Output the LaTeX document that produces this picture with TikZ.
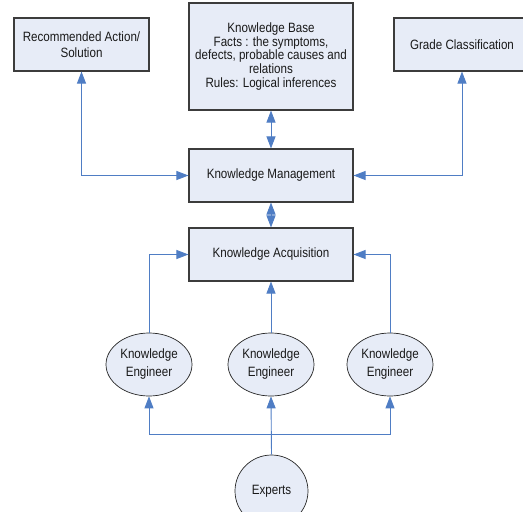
\documentclass[tikz,border=0pt]{standalone}
\usepackage{fontspec}
\setmainfont{Liberation Sans}[FakeStretch=0.86]
\usetikzlibrary{arrows.meta,shapes.geometric}
\definecolor{boxfill}{RGB}{231,236,247}
\definecolor{boxline}{RGB}{60,60,60}
\definecolor{conn}{RGB}{79,125,196}
\begin{document}
\begin{tikzpicture}[x=1pt,y=-1pt,
  every node/.style={font=\fontsize{13.5}{13.8}\selectfont, text=black!90, align=center, inner sep=0pt},
  box/.style={draw=boxline, line width=1.1pt, fill=boxfill, rectangle, minimum height=53pt},
  oval/.style={draw=black!85, line width=0.7pt, fill=boxfill, ellipse, font=\fontsize{13.5}{18}\selectfont},
  link/.style={draw=conn, line width=0.9pt, -{Triangle[length=12pt,width=9pt]}},
  dlink/.style={draw=conn, line width=0.9pt, {Triangle[length=12pt,width=9pt]}-{Triangle[length=12pt,width=9pt]}}
]
\useasboundingbox (0,0) rectangle (523,512);

\node[box, minimum width=135pt, font=\fontsize{13.5}{16}\selectfont] (rec) at (81.5,44.5) {Recommended Action/\\Solution};
\node[box, minimum width=164pt, minimum height=107pt] (kb) at (271,56.5)
  {Knowledge Base\\Facts : the symptoms,\\defects, probable causes and\\relations\\Rules: Logical inferences};
\node[box, minimum width=136pt] (grade) at (462,44.5) {Grade Classification};
\node[box, minimum width=164pt] (km) at (271,175.5) {Knowledge Management};
\node[box, minimum width=164pt] (ka) at (271,254.5) {Knowledge Acquisition};

\node[oval, minimum width=86pt, minimum height=63pt] (e1) at (149,364.5) {Knowledge\\Engineer};
\node[oval, minimum width=86pt, minimum height=63pt] (e2) at (271,364.5) {Knowledge\\Engineer};
\node[oval, minimum width=86pt, minimum height=63pt] (e3) at (390,364.5) {Knowledge\\Engineer};
\node[oval, minimum width=73pt, minimum height=72pt] (ex) at (271.5,491) {Experts};

\coordinate (j) at (271.5,434);

\draw[dlink] (rec.south) |- (km.west);
\draw[dlink] (grade.south) |- (km.east);
\draw[dlink] (kb.south) -- (km.north);
\draw[dlink] (km.south) -- (ka.north);

\draw[link] (e1.north) |- (ka.west);
\draw[link] (e2.north) -- (ka.south);
\draw[link] (e3.north) |- (ka.east);

\draw[link] (ex.north) -- (e2.south);
\draw[link] (j) -| (e1.south);
\draw[link] (j) -| (e3.south);
\end{tikzpicture}
\end{document}
